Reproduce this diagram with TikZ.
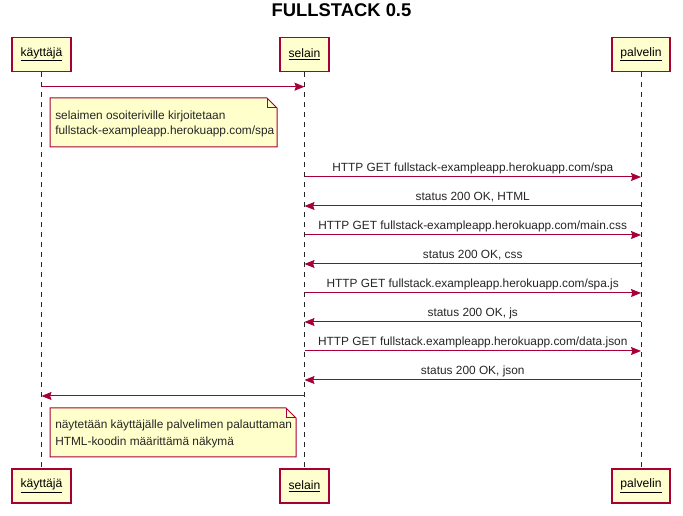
\documentclass[tikz,border=0pt]{standalone}
\usepackage{fontspec}
\setmainfont{Liberation Sans}
\usetikzlibrary{arrows.meta}
\definecolor{umlred}{HTML}{A80036}
\definecolor{umlfill}{HTML}{FEFECE}
\definecolor{notefill}{HTML}{FFFFCC}
\tikzset{
  px/.style={x=0.75pt,y=-0.75pt},
  actorbox/.style={draw=umlred,fill=umlfill,line width=1.1pt,minimum height=34*0.75pt,inner sep=0pt,font=\fontsize{9.1pt}{11pt}\selectfont},
  lifeline/.style={dashed,dash pattern=on 3.75pt off 3.75pt,line width=0.75pt,black!85},
  msg/.style={draw=umlred,line width=0.75pt,-{Stealth[length=7.5pt,width=6pt,inset=1pt]}},
  msglabel/.style={anchor=base,inner sep=0pt,font=\fontsize{8.9pt}{10.5pt}\selectfont,text=black!85},
  notebox/.style={draw=umlred,fill=notefill,line width=0.75pt},
  notetext/.style={anchor=base west,inner sep=0pt,font=\fontsize{8.9pt}{10.5pt}\selectfont,text=black!85}
}
\begin{document}
\begin{tikzpicture}[px]
\useasboundingbox (0,0) rectangle (683,516);
\fill[white] (0,0) rectangle (683,516);
% title
\node[font=\bfseries\fontsize{13.8pt}{15pt}\selectfont,inner sep=0pt] (title) at (341.5,10.5) {FULLSTACK 0.5};
% participants
\node[actorbox,minimum width=59*0.75pt] (k1) at (41.5,54.5) {\underline{käyttäjä}};
\node[actorbox,minimum width=49*0.75pt] (s1) at (304.5,54.5) {\underline{selain}};
\node[actorbox,minimum width=58*0.75pt] (p1) at (641,54.5) {\underline{palvelin}};
\node[actorbox,minimum width=59*0.75pt] (k2) at (41.5,486) {\underline{käyttäjä}};
\node[actorbox,minimum width=49*0.75pt] (s2) at (304.5,486) {\underline{selain}};
\node[actorbox,minimum width=58*0.75pt] (p2) at (641,486) {\underline{palvelin}};
% lifelines
\draw[lifeline] (k1.south) -- (k2.north);
\draw[lifeline] (s1.south) -- (s2.north);
\draw[lifeline] (p1.south) -- (p2.north);
% first message
\draw[msg] (k1.south |- 0,86.7) -- (s1.south |- 0,86.7);
% note 1
\draw[notebox] (50,98) -- (267,98) -- (277,108) -- (277,147) -- (50,147) -- cycle;
\draw[notebox,fill=none] (267,98) -- (267,108) -- (277,108);
\node[notetext] (n1a) at (55,120) {selaimen osoiteriville kirjoitetaan};
\node[notetext] (n1b) at (55,135) {fullstack-exampleapp.herokuapp.com/spa};
% messages
\draw[msg] (s1.south |- 0,177) -- (p1.south |- 0,177) node[msglabel,midway,yshift=4.3pt] {HTTP GET fullstack-exampleapp.herokuapp.com/spa};
\draw[msg] (p1.south |- 0,206) -- (s1.south |- 0,206) node[msglabel,midway,yshift=4.3pt] {status 200 OK, HTML};
\draw[msg] (s1.south |- 0,235) -- (p1.south |- 0,235) node[msglabel,midway,yshift=4.3pt] {HTTP GET fullstack-exampleapp.herokuapp.com/main.css};
\draw[msg] (p1.south |- 0,264) -- (s1.south |- 0,264) node[msglabel,midway,yshift=4.3pt] {status 200 OK, css};
\draw[msg] (s1.south |- 0,293) -- (p1.south |- 0,293) node[msglabel,midway,yshift=4.3pt] {HTTP GET fullstack.exampleapp.herokuapp.com/spa.js};
\draw[msg] (p1.south |- 0,322) -- (s1.south |- 0,322) node[msglabel,midway,yshift=4.3pt] {status 200 OK, js};
\draw[msg] (s1.south |- 0,351) -- (p1.south |- 0,351) node[msglabel,midway,yshift=4.3pt] {HTTP GET fullstack.exampleapp.herokuapp.com/data.json};
\draw[msg] (p1.south |- 0,380) -- (s1.south |- 0,380) node[msglabel,midway,yshift=4.3pt] {status 200 OK, json};
% back to user
\draw[msg] (s1.south |- 0,396) -- (k1.south |- 0,396);
% note 2
\draw[notebox] (50,408) -- (286,408) -- (296,418) -- (296,457) -- (50,457) -- cycle;
\draw[notebox,fill=none] (286,408) -- (286,418) -- (296,418);
\node[notetext] (n2a) at (55,429) {näytetään käyttäjälle palvelimen palauttaman};
\node[notetext] (n2b) at (55,446) {HTML-koodin määrittämä näkymä};
\end{tikzpicture}
\end{document}
